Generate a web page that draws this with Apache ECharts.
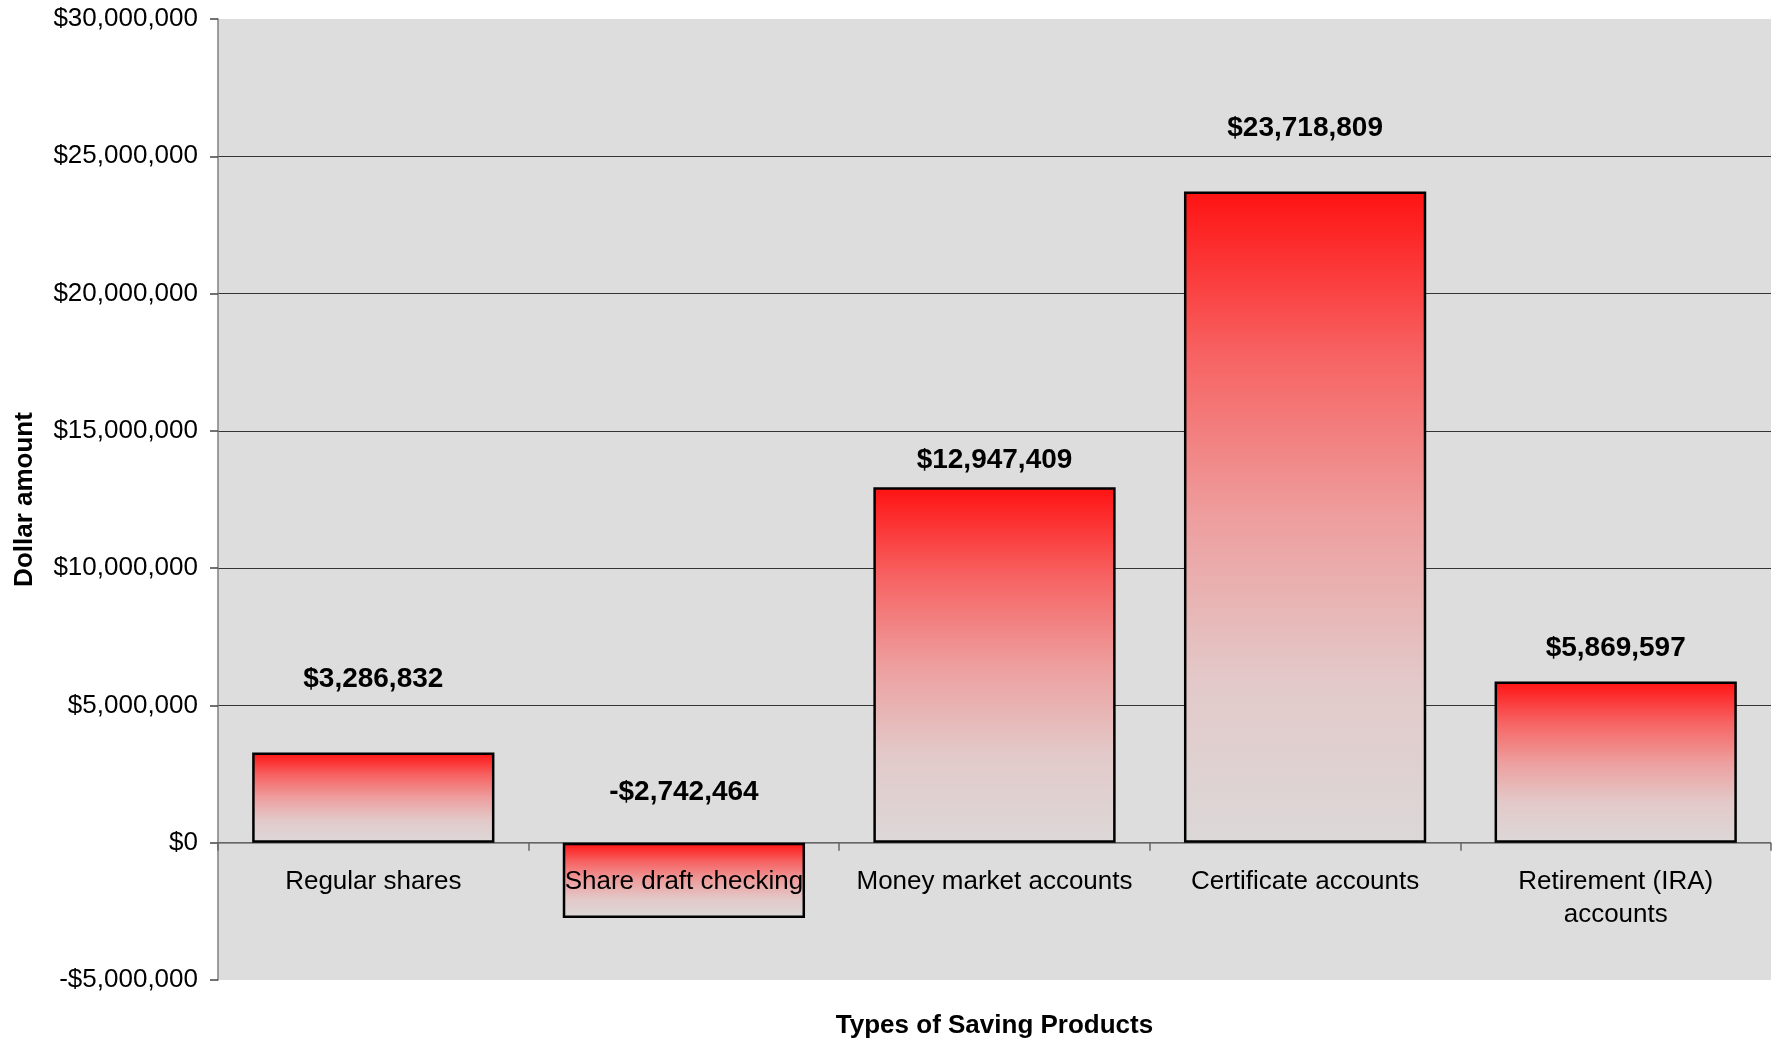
<!DOCTYPE html>
<html>
<head>
<meta charset="utf-8">
<title>Types of Saving Products</title>
<script src="https://cdn.jsdelivr.net/npm/echarts@6/dist/echarts.min.js"></script>
<style>
  html, body { margin: 0; padding: 0; background: #ffffff; }
  #chart { width: 1789px; height: 1044px; }
</style>
</head>
<body>
<div id="chart"></div>
<script>
// Net change in dollar amount by saving product
const categories = [
  'Regular shares',
  'Share draft checking',
  'Money market accounts',
  'Certificate accounts',
  'Retirement (IRA)\naccounts'
];
const amounts = [3286832, -2742464, 12947409, 23718809, 5869597];

// Value axis ticks
const axisMin = -5000000;
const axisMax = 30000000;
const axisStep = 5000000;

// Vertical spacing between each bar's end and its value label (px)
const labelGap = [59, 36, 13, 49, 19];

const FONT = '"Liberation Sans", Arial, Helvetica, sans-serif';

function money(v) {
  const s = '$' + Math.abs(v).toLocaleString('en-US');
  return v < 0 ? '-' + s : s;
}

const barFill = {
  type: 'linear', x: 0, y: 0, x2: 0, y2: 1,
  colorStops: [
    { offset: 0.00, color: '#ff1212' },
    { offset: 0.25, color: '#f76262' },
    { offset: 0.50, color: '#ee9e9e' },
    { offset: 0.75, color: '#e3c9c9' },
    { offset: 1.00, color: '#dcd8d8' }
  ]
};

const chart = echarts.init(document.getElementById('chart'), null, { renderer: 'canvas' });

chart.setOption({
  animation: false,
  backgroundColor: '#ffffff',
  textStyle: { fontFamily: FONT, color: '#000' },
  grid: {
    show: true,
    left: 218, right: 18, top: 19, bottom: 64,
    backgroundColor: '#dddddd',
    borderWidth: 0,
    containLabel: false,
    outerBoundsMode: 'none'
  },
  xAxis: {
    // labels sit above the bars; the zero line itself is a markLine behind them
    type: 'category',
    data: categories,
    boundaryGap: true,
    z: 5,
    axisLine: { show: false, onZero: true },
    axisTick: { show: true, length: 8, alignWithLabel: false, lineStyle: { color: '#666666', width: 1.5 } },
    splitLine: { show: false },
    axisLabel: {
      show: true,
      interval: 0,
      margin: -115,
      fontFamily: FONT,
      fontSize: 26,
      lineHeight: 33,
      color: '#000',
      align: 'center'
    },
    name: 'Types of Saving Products',
    nameLocation: 'middle',
    nameGap: 33,
    nameMoveOverlap: false,
    nameTextStyle: { fontFamily: FONT, fontSize: 26, fontWeight: 'bold', color: '#000' }
  },
  yAxis: {
    type: 'value',
    min: axisMin,
    max: axisMax,
    interval: axisStep,
    axisLine: { show: true, lineStyle: { color: '#808080', width: 1.5 } },
    axisTick: { show: true, length: 8, lineStyle: { color: '#444444', width: 1.5 } },
    splitLine: {
      show: true,
      showMinLine: false,
      showMaxLine: false,
      lineStyle: { color: '#333333', width: 1.2 }
    },
    axisLabel: {
      formatter: money,
      margin: 20,
      fontFamily: FONT,
      fontSize: 26,
      color: '#000'
    },
    name: 'Dollar amount',
    nameLocation: 'middle',
    nameGap: 180,
    nameRotate: 90,
    nameTextStyle: { fontFamily: FONT, fontSize: 26, fontWeight: 'bold', color: '#000' }
  },
  series: [
    {
      type: 'bar',
      barCategoryGap: '22%',
      z: 2,
      data: amounts.map((v, i) => ({
        value: v,
        label: { distance: labelGap[i] }
      })),
      itemStyle: {
        color: barFill,
        borderColor: '#000000',
        borderWidth: 2.5
      },
      label: {
        show: true,
        position: 'top',
        formatter: p => money(p.value),
        fontFamily: FONT,
        fontSize: 28,
        lineHeight: 28,
        fontWeight: 'bold',
        color: '#000'
      },
      markLine: {
        z: 1,
        silent: true,
        symbol: 'none',
        label: { show: false },
        lineStyle: { color: '#777777', width: 1.5, type: 'solid' },
        data: [{ yAxis: 0 }]
      }
    }
  ]
});
</script>
</body>
</html>
